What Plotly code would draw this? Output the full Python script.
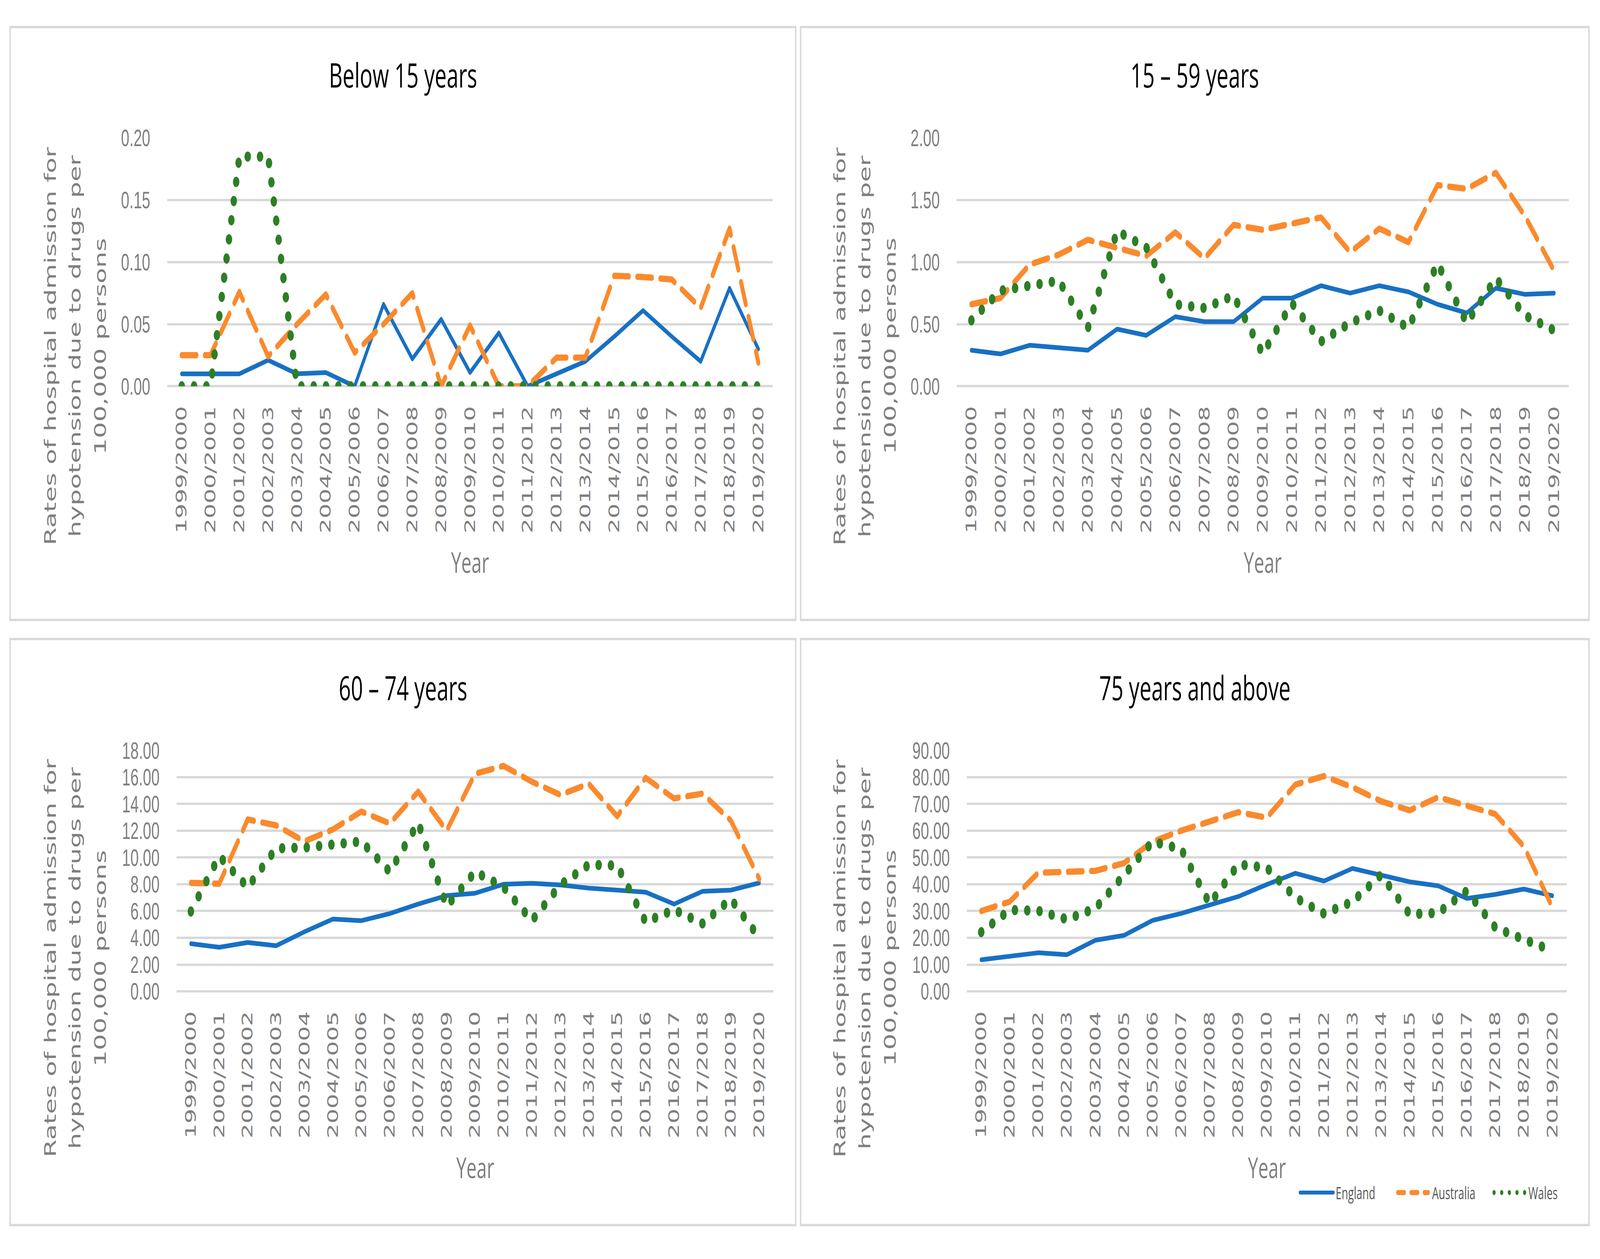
import plotly.graph_objects as go

# ---------------- data ----------------
years = ["1999/2000", "2000/2001", "2001/2002", "2002/2003", "2003/2004", "2004/2005",
         "2005/2006", "2006/2007", "2007/2008", "2008/2009", "2009/2010", "2010/2011",
         "2011/2012", "2012/2013", "2013/2014", "2014/2015", "2015/2016", "2016/2017",
         "2017/2018", "2018/2019", "2019/2020"]

series_names = ["England", "Australia", "Wales"]

u15_england = [0.010, 0.010, 0.010, 0.021, 0.010, 0.011, 0.000, 0.066, 0.022, 0.054, 0.011,
               0.043, 0.000, 0.010, 0.020, 0.040, 0.061, 0.040, 0.020, 0.079, 0.030]
u15_australia = [0.025, 0.025, 0.076, 0.024, 0.050, 0.074, 0.027, 0.050, 0.075, 0.000, 0.049,
                 0.000, 0.000, 0.023, 0.023, 0.089, 0.088, 0.086, 0.063, 0.127, 0.019]
u15_wales = [0.000, 0.000, 0.185, 0.185, 0.000, 0.000, 0.000, 0.000, 0.000, 0.000, 0.000,
             0.000, 0.000, 0.000, 0.000, 0.000, 0.000, 0.000, 0.000, 0.000, 0.000]

a15_59_england = [0.29, 0.26, 0.33, 0.31, 0.29, 0.46, 0.41, 0.56, 0.52, 0.52, 0.71,
                  0.71, 0.81, 0.75, 0.81, 0.76, 0.66, 0.59, 0.79, 0.74, 0.75]
a15_59_australia = [0.66, 0.71, 0.98, 1.06, 1.18, 1.11, 1.05, 1.24, 1.03, 1.30, 1.26,
                    1.31, 1.36, 1.08, 1.27, 1.16, 1.62, 1.59, 1.72, 1.37, 0.93]
a15_59_wales = [0.53, 0.77, 0.81, 0.85, 0.47, 1.25, 1.12, 0.66, 0.63, 0.73, 0.26,
                0.67, 0.36, 0.51, 0.61, 0.47, 0.99, 0.51, 0.87, 0.57, 0.45]

a60_74_england = [3.56, 3.29, 3.65, 3.41, 4.45, 5.40, 5.28, 5.81, 6.52, 7.15, 7.33,
                  8.00, 8.07, 7.95, 7.71, 7.59, 7.41, 6.52, 7.47, 7.56, 8.10]
a60_74_australia = [8.10, 8.04, 12.84, 12.40, 11.20, 12.10, 13.43, 12.54, 14.92, 12.00, 16.25,
                    16.84, 15.66, 14.68, 15.50, 13.08, 15.95, 14.41, 14.77, 12.75, 8.39]
a60_74_wales = [5.96, 10.10, 7.77, 10.68, 10.74, 10.88, 11.20, 8.93, 12.60, 6.35, 8.93,
                7.80, 5.28, 7.95, 9.46, 9.40, 5.19, 6.10, 5.07, 6.90, 4.00]

a75_england = [11.8, 12.9, 14.4, 13.7, 19.1, 20.9, 26.5, 29.1, 32.1, 35.4, 39.9,
               44.1, 41.2, 45.9, 43.4, 40.9, 39.4, 34.7, 36.2, 38.2, 35.7]
a75_australia = [30.0, 33.5, 44.3, 44.9, 45.0, 47.9, 55.9, 60.0, 63.2, 66.9, 64.9,
                 77.2, 80.4, 76.2, 71.0, 67.6, 72.5, 69.6, 66.2, 54.1, 31.3]
a75_wales = [22.1, 30.4, 30.1, 26.9, 31.0, 43.2, 55.9, 53.2, 32.6, 47.4, 46.2,
             35.0, 29.0, 33.5, 43.5, 28.8, 29.3, 37.5, 23.8, 19.4, 15.2]

panel_titles = ["Below 15 years", "15 \u2013 59 years", "60 \u2013 74 years", "75 years and above"]
y_title_lines = ["Rates of hospital admission for", "hypotension due to drugs per", "100,000 persons"]
x_title = "Year"
y_ranges = [[0, 0.2], [0, 2.0], [0, 18.0], [0, 90.0]]
y_dticks = [0.05, 0.5, 2.0, 10.0]
panel_data = [
    [u15_england, u15_australia, u15_wales],
    [a15_59_england, a15_59_australia, a15_59_wales],
    [a60_74_england, a60_74_australia, a60_74_wales],
    [a75_england, a75_australia, a75_wales],
]

# ---------------- layout geometry (pixels) ----------------
W, H = 6495, 3222
def fx(x):
    return x / W
def fy(y):
    return 1 - y / H

boxes = [(41, 36, 3230, 1586), (3250, 36, 6450, 1586), (41, 1636, 3230, 3168), (3250, 1636, 6450, 3168)]
plots = [(679, 326, 3137, 975), (3884, 326, 6368, 975), (717, 1927, 3140, 2557), (3925, 1927, 6360, 2557)]
title_y = [160, 160, 1762, 1762]
xtitle_y = [1434, 1434, 3016, 3016]
ytitle_x = [[204, 305, 407], [3409, 3511, 3614], [204, 305, 407], [3409, 3511, 3614]]
ytitle_y = [870, 870, 2470, 2470]

colors = ["#1870C4", "#FA8A2D", "#2D7F26"]
line_styles = [
    dict(width=12, dash="solid"),
    dict(width=16, dash="60px,34px"),
    dict(width=26, dash="0.5px,49.5px"),
]

GREY = "#7F7F7F"
fig = go.Figure()

for i in range(4):
    ax = "" if i == 0 else str(i + 1)
    for s in range(3):
        fig.add_trace(go.Scatter(
            x=years, y=panel_data[i][s], mode="lines",
            name=series_names[s], legendgroup=series_names[s], showlegend=(i == 3),
            line=dict(color=colors[s], **line_styles[s]),
            xaxis="x" + ax, yaxis="y" + ax, hoverinfo="x+y+name",
        ))
    x0, y0, x1, y1 = plots[i]
    fig.update_layout({
        "xaxis" + ax: dict(
            domain=[fx(x0), fx(x1)], anchor="y" + ax, type="category",
            range=[-0.5, len(years) - 0.5], tickangle=-90, showgrid=False,
            showline=False, zeroline=False, ticks="", ticklabelstandoff=38,
            tickfont=dict(family="DejaVu Sans", size=60, color=GREY),
        ),
        "yaxis" + ax: dict(
            domain=[fy(y1), fy(y0)], anchor="x" + ax, range=y_ranges[i],
            dtick=y_dticks[i], tick0=0, tickformat=".2f", showgrid=True,
            gridcolor="#D9D9D9", gridwidth=6, zeroline=True, zerolinecolor="#D9D9D9",
            zerolinewidth=6, showline=False, ticks="", ticklabelstandoff=68,
            tickfont=dict(family="Liberation Sans", size=61, color=GREY),
        ),
    })

shapes = []
annotations = []
for i in range(4):
    bx0, by0, bx1, by1 = boxes[i]
    shapes.append(dict(type="rect", xref="paper", yref="paper", x0=fx(bx0), x1=fx(bx1),
                       y0=fy(by1), y1=fy(by0), line=dict(color="#D9D9D9", width=6),
                       fillcolor="rgba(0,0,0,0)", layer="below"))
    annotations.append(dict(text=panel_titles[i], xref="paper", yref="paper",
                            x=fx((bx0 + bx1) / 2), y=fy(title_y[i]), xanchor="center", yanchor="middle",
                            showarrow=False, font=dict(family="Open Sans", size=86, color="#000000")))
    px0, py0, px1, py1 = plots[i]
    annotations.append(dict(text=x_title, xref="paper", yref="paper",
                            x=fx((px0 + px1) / 2), y=fy(xtitle_y[i]), xanchor="center", yanchor="middle",
                            showarrow=False, font=dict(family="Open Sans", size=74, color=GREY)))
    for k, line in enumerate(y_title_lines):
        annotations.append(dict(text=line, xref="paper", yref="paper", textangle=-90,
                                x=fx(ytitle_x[i][k]), y=fy(ytitle_y[i]), xanchor="center", yanchor="middle",
                                showarrow=False, font=dict(family="DejaVu Sans", size=66, color=GREY)))

fig.update_layout(
    width=W, height=H, margin=dict(l=0, r=0, t=0, b=0),
    paper_bgcolor="white", plot_bgcolor="white",
    shapes=shapes, annotations=annotations,
    showlegend=True,
    legend=dict(orientation="h", x=fx(5272), y=fy(3083), xanchor="left", yanchor="middle",
                itemwidth=140, entrywidth=236, bgcolor="rgba(0,0,0,0)",
                font=dict(family="Open Sans", size=43, color="#595959"),
                tracegroupgap=0, itemclick=False),
)

post_script = """
var gd = document.getElementById('{plot_id}');
var st = document.createElement('style');
st.textContent = 'html,body{margin:0;padding:0;overflow:hidden}' +
                 '.scatterlayer path.js-line{stroke-linecap:round;stroke-linejoin:round}' +
                 '.modebar-container{display:none}';
document.head.appendChild(st);
var specs = [['M5,0h136', '10px', ''], ['M11,0h124', '13px', '27px,27px'], ['M11,0h124', '13px', '0.1px,30.9px']];
var items = gd.querySelectorAll('.legend .traces');
items.forEach(function(g, i){
  var p = g.querySelector('path.js-line');
  if(!p || !specs[i]) return;
  p.setAttribute('d', specs[i][0]);
  p.style.strokeWidth = specs[i][1];
  p.style.strokeDasharray = specs[i][2];
  p.style.strokeLinecap = 'round';
});
// fit the 6495x3222 figure to the browser window actually available
var vw = window.innerWidth || document.documentElement.clientWidth;
var vh = window.innerHeight || document.documentElement.clientHeight;
var sx = vw / 6495, sy = vh / 3222;
var wrap = gd.parentElement;
gd.style.transformOrigin = '0 0';
gd.style.transform = 'scale(' + sx + ',' + sy + ')';
wrap.style.width = vw + 'px';
wrap.style.height = vh + 'px';
wrap.style.overflow = 'hidden';
"""

fig.write_html("out.html", post_script=post_script)
